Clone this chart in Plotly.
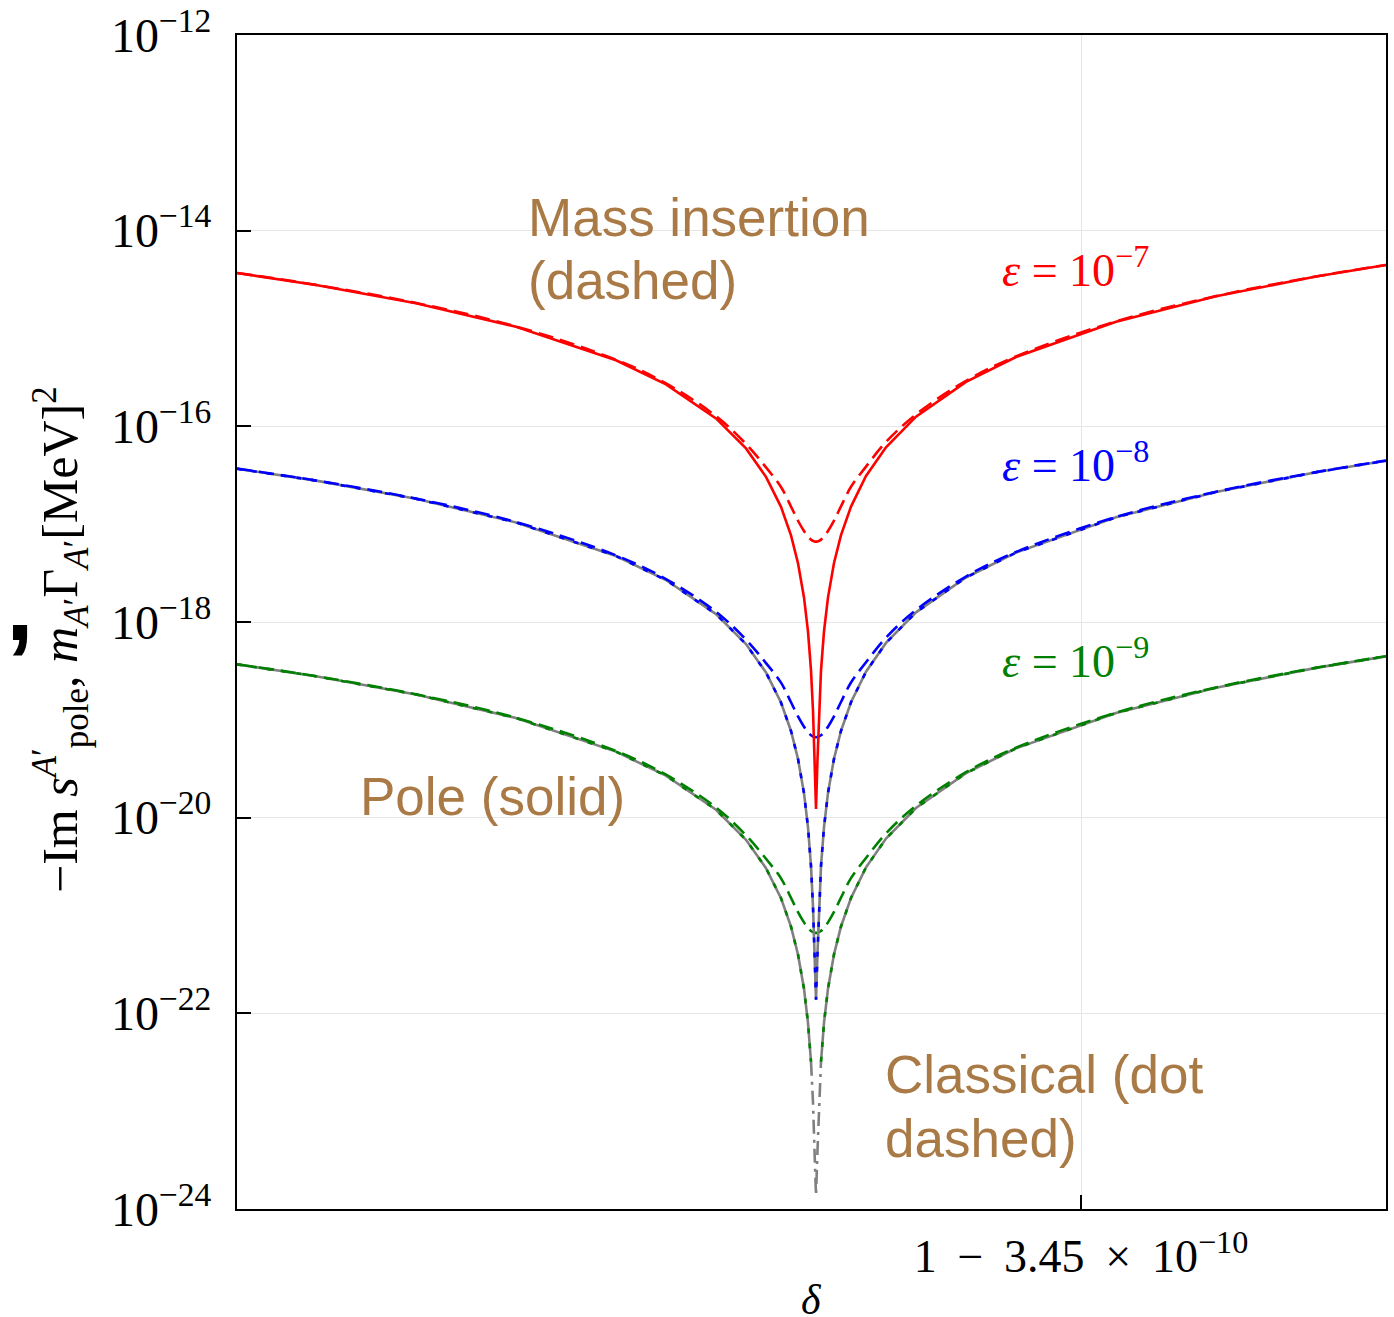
import plotly.graph_objects as go

# ---------------- data ----------------
# delta offset relative to the labelled tick (arbitrary units)
x_vals = [-8.44, -7.65, -6.65, -5.65, -4.65, -4.15, -3.65, -3.35, -3.15, -3.00, -2.90, -2.83,
          -2.77, -2.73, -2.70, -2.68, -2.665, -2.65, -2.635, -2.62, -2.60, -2.57, -2.53, -2.47,
          -2.40, -2.30, -2.15, -1.95, -1.65, -1.15, -0.65, 0.35, 1.35, 2.35, 3.05]

# log10 of -Im s_pole / m Gamma [MeV^2]
red_pole_log = [-14.433, -14.555, -14.741, -14.982, -15.325, -15.571, -15.919, -16.226, -16.516,
                -16.823, -17.114, -17.399, -17.749, -18.098, -18.495, -18.91, -19.40, -19.91,
                -19.40, -18.91, -18.495, -18.097, -17.748, -17.397, -17.112, -16.820, -16.508,
                -16.214, -15.901, -15.545, -15.291, -14.930, -14.671, -14.469, -14.351]
red_mass_log = [-14.432, -14.554, -14.739, -14.979, -15.319, -15.561, -15.896, -16.180, -16.420,
                -16.620, -16.820, -16.965, -17.070, -17.127, -17.158, -17.170, -17.176, -17.178,
                -17.176, -17.170, -17.158, -17.127, -17.070, -16.964, -16.818, -16.618, -16.412,
                -16.160, -15.878, -15.535, -15.285, -14.927, -14.669, -14.468, -14.350]

blue_pole_log = [-16.433, -16.555, -16.741, -16.982, -17.325, -17.571, -17.919, -18.226, -18.516,
                 -18.823, -19.114, -19.399, -19.749, -20.098, -20.495, -20.91, -21.38, -21.86,
                 -21.38, -20.91, -20.495, -20.097, -19.748, -19.397, -19.112, -18.820, -18.508,
                 -18.214, -17.901, -17.545, -17.291, -16.930, -16.671, -16.469, -16.351]
blue_mass_log = [-16.432, -16.554, -16.739, -16.979, -17.319, -17.561, -17.896, -18.180, -18.420,
                 -18.620, -18.820, -18.965, -19.070, -19.127, -19.158, -19.170, -19.176, -19.178,
                 -19.176, -19.170, -19.158, -19.127, -19.070, -18.964, -18.818, -18.618, -18.412,
                 -18.160, -17.878, -17.535, -17.285, -16.927, -16.669, -16.468, -16.350]

green_classical_log = [-18.433, -18.555, -18.741, -18.982, -19.325, -19.571, -19.919, -20.226, -20.516,
                       -20.823, -21.114, -21.399, -21.749, -22.098, -22.495, -22.91, -23.40, -23.86,
                       -23.40, -22.91, -22.495, -22.097, -21.748, -21.397, -21.112, -20.820, -20.508,
                       -20.214, -19.901, -19.545, -19.291, -18.930, -18.671, -18.469, -18.351]
green_pole_log = [-18.433, -18.555, -18.741, -18.982, -19.325, -19.571, -19.919, -20.226, -20.516,
                  -20.823, -21.114, -21.399, -21.749, -22.098, -22.495, None, None, None,
                  None, None, -22.495, -22.097, -21.748, -21.397, -21.112, -20.820, -20.508,
                  -20.214, -19.901, -19.545, -19.291, -18.930, -18.671, -18.469, -18.351]
green_mass_log = [-18.432, -18.554, -18.739, -18.979, -19.319, -19.561, -19.896, -20.180, -20.420,
                  -20.620, -20.820, -20.965, -21.070, -21.127, -21.158, -21.170, -21.176, -21.178,
                  -21.176, -21.170, -21.158, -21.127, -21.070, -20.964, -20.818, -20.618, -20.412,
                  -20.160, -19.878, -19.535, -19.285, -18.927, -18.669, -18.468, -18.350]

y_tick_exponents = [-12, -14, -16, -18, -20, -22, -24]
x_tick_value = [0.0]
x_tick_text = ["1 \u2009−\u2009 3.45 \u2009×\u2009 10<sup>−10</sup>"]
eps_labels = ["−7", "−8", "−9"]


def lin(v):
    return [None if a is None else 10 ** a for a in v]


RED, BLUE, GREEN, GRAY = "#ff0000", "#0000ff", "#008000", "#808080"
BROWN = "#a97a45"
SERIF = "Liberation Serif"
SANS = "Liberation Sans"
W = 2.6
MASS_DASH = "15px,7px"
POLE_DASH = "5px,10px"
CLASS_DASH = "14px,6px,3px,6px"

fig = go.Figure()

# green epsilon = 1e-9
outer = [None if p is None else c for p, c in zip(green_pole_log, green_classical_log)]
fig.add_trace(go.Scatter(x=x_vals, y=lin(outer), mode="lines", connectgaps=False,
                         line=dict(color=GRAY, width=W), showlegend=False))
fig.add_trace(go.Scatter(x=x_vals[14:21], y=lin(green_classical_log[14:21]), mode="lines",
                         line=dict(color=GRAY, width=W, dash=CLASS_DASH), showlegend=False))
fig.add_trace(go.Scatter(x=x_vals, y=lin(green_pole_log), mode="lines", connectgaps=False,
                         line=dict(color=GREEN, width=W, dash=POLE_DASH), showlegend=False))
fig.add_trace(go.Scatter(x=x_vals, y=lin(green_mass_log), mode="lines", line_shape="spline",
                         line=dict(color=GREEN, width=W, dash=MASS_DASH), showlegend=False))

# blue epsilon = 1e-8
fig.add_trace(go.Scatter(x=x_vals, y=lin(blue_pole_log), mode="lines",
                         line=dict(color=GRAY, width=W), showlegend=False))
fig.add_trace(go.Scatter(x=x_vals, y=lin(blue_pole_log), mode="lines",
                         line=dict(color=BLUE, width=W, dash=POLE_DASH), showlegend=False))
fig.add_trace(go.Scatter(x=x_vals, y=lin(blue_mass_log), mode="lines", line_shape="spline",
                         line=dict(color=BLUE, width=W, dash=MASS_DASH), showlegend=False))

# red epsilon = 1e-7
fig.add_trace(go.Scatter(x=x_vals, y=lin(red_pole_log), mode="lines",
                         line=dict(color=RED, width=W), showlegend=False))
fig.add_trace(go.Scatter(x=x_vals, y=lin(red_mass_log), mode="lines", line_shape="spline",
                         line=dict(color=RED, width=W, dash=MASS_DASH), showlegend=False))

L, R, T, B = 237, 8, 35, 108
PW, PH = 1394 - L - R, 1317 - T - B


def px(xp):
    return (xp - L) / PW


def py(yp):
    return (T + PH - yp) / PH


ann = []


def text(s, xp, yp, size, color, font, xanchor="left", angle=0):
    ann.append(dict(text=s, x=px(xp), y=py(yp), xref="paper", yref="paper", showarrow=False,
                    xanchor=xanchor, yanchor="middle", textangle=angle,
                    font=dict(size=size, color=color, family=font)))


text("Mass insertion", 526, 217, 53, BROWN, SANS)
text("(dashed)", 526, 280, 53, BROWN, SANS)
text("Pole (solid)", 358, 796, 53, BROWN, SANS)
text("Classical (dot", 883, 1074, 53, BROWN, SANS)
text("dashed)", 883, 1138, 53, BROWN, SANS)

for lab, col, yy in zip(eps_labels, [RED, BLUE, GREEN], [267, 462, 658]):
    text("<i>ε</i> = 10<sup>%s</sup>" % lab, 1000, yy, 46, col, SERIF)

text("−Im <i>s</i><sup><i>A</i>′</sup><sub>pole</sub>, <i>m</i><sub><i>A</i>′</sub>Γ<sub><i>A</i>′</sub>[MeV]<sup>2</sup>",
     60, 640, 50, "black", SERIF, xanchor="center", angle=-90)
text("<b>,</b>", 20, 605, 100, "black", SANS, xanchor="center")
text("<i>δ</i>", 811, 1300, 42, "black", SERIF, xanchor="center")

fig.update_layout(
    width=1394, height=1317,
    margin=dict(l=L, r=R, t=T, b=B),
    paper_bgcolor="white", plot_bgcolor="white",
    annotations=ann,
    showlegend=False,
)
fig.update_xaxes(range=[-8.44, 3.05], tickvals=x_tick_value, ticktext=x_tick_text,
                 ticks="inside", ticklen=14, tickwidth=2, tickcolor="black", automargin=False,
                 showgrid=True, gridcolor="#e6e6e6", gridwidth=1, zeroline=False,
                 showline=True, linecolor="black", linewidth=2, mirror=True,
                 tickfont=dict(family=SERIF, size=46, color="black"), ticklabelstandoff=6)
fig.update_yaxes(type="log", range=[-24, -12], automargin=False,
                 tickvals=[10 ** e for e in y_tick_exponents],
                 ticktext=["10<sup>%s</sup>" % str(e).replace("-", "−") for e in y_tick_exponents],
                 ticks="inside", ticklen=14, tickwidth=2, tickcolor="black",
                 showgrid=True, gridcolor="#e6e6e6", gridwidth=1, zeroline=False,
                 showline=True, linecolor="black", linewidth=2, mirror=True,
                 tickfont=dict(family=SERIF, size=48, color="black"), ticklabelstandoff=14)

fig.write_html("out.html")
